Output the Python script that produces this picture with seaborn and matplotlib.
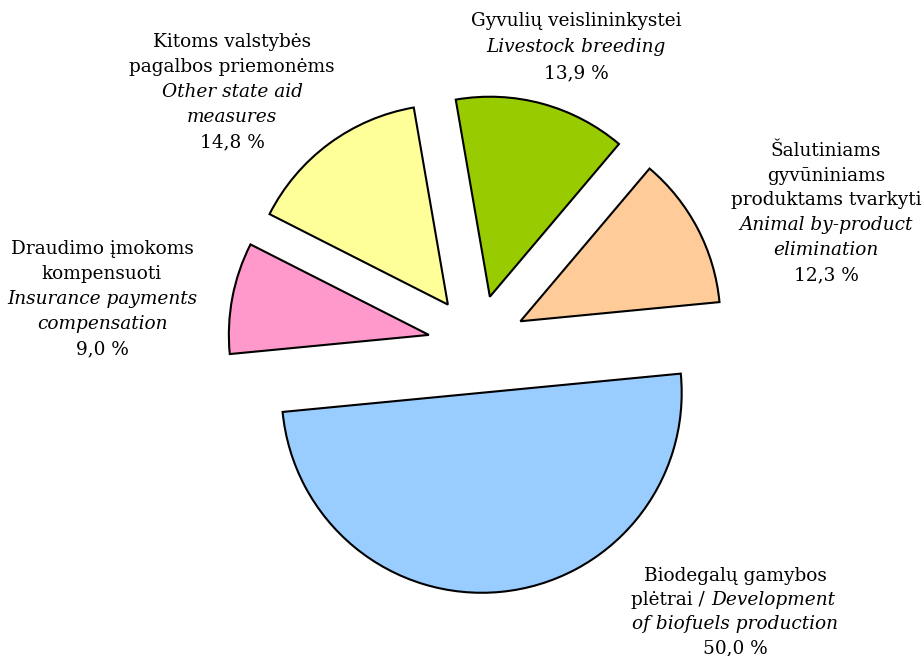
import matplotlib
matplotlib.use("Agg")
import matplotlib.pyplot as plt
import seaborn as sns

# shares of state aid, %
categories = ["Biodegalų gamybos plėtrai", "Šalutiniams gyvūniniams produktams tvarkyti",
              "Gyvulių veislininkystei", "Kitoms valstybės pagalbos priemonėms",
              "Draudimo įmokoms kompensuoti"]
values = [50.0, 12.3, 13.9, 14.8, 9.0]
value_labels = ["50,0 %", "12,3 %", "13,9 %", "14,8 %", "9,0 %"]
colors = ["#99CCFF", "#FFCC99", "#99CC00", "#FFFF99", "#FF99CC"]

sns.set_theme(style="white")
plt.rcParams["font.family"] = ["DejaVu Serif"]

fig = plt.figure(figsize=(9.24, 6.56), dpi=100)
ax = fig.add_axes([0, 0, 1, 1])

ax.pie(values, colors=colors, startangle=185.5, counterclock=True,
       explode=[0.245] * len(values), radius=1.0,
       wedgeprops=dict(edgecolor="black", linewidth=1.5))

ax.set_xlim(-477 / 200, (924 - 477) / 200)
ax.set_ylim(-(656 - 344) / 200, 344 / 200)
ax.set_aspect("equal")
ax.axis("off")

fs = 13.3


def px(x, y):
    return (x - 477) / 200, (344 - y) / 200


def put(x, y, s, italic=False, ha="center"):
    xd, yd = px(x, y)
    return ax.text(xd, yd, s, ha=ha, va="center", fontsize=fs,
                   style="italic" if italic else "normal", color="black")


# Kitoms valstybės ...
put(232, 42, "Kitoms valstybės")
put(232, 67, "pagalbos priemonėms")
put(232, 92, "Other state aid", italic=True)
put(232, 117, "measures", italic=True)
put(232, 142, value_labels[3])

# Gyvulių veislininkystei
put(576, 21, "Gyvulių veislininkystei")
put(576, 47, "Livestock breeding", italic=True)
put(576, 73, value_labels[2])

# Šalutiniams ...
put(826, 151, "Šalutiniams")
put(826, 176, "gyvūniniams")
put(826, 200, "produktams tvarkyti")
put(826, 225, "Animal by-product", italic=True)
put(826, 250, "elimination", italic=True)
put(826, 275, value_labels[1])

# Draudimo ...
put(102, 249, "Draudimo įmokoms")
put(102, 274, "kompensuoti")
put(102, 299, "Insurance payments", italic=True)
put(102, 324, "compensation", italic=True)
put(102, 349, value_labels[4])

# Biodegalų ...
put(735, 576, "Biodegalų gamybos")
# mixed line: normal + italic, centred as one line
gap = 6
t1 = put(0, 600, "plėtrai /", ha="left")
t2 = put(0, 600, "Development", italic=True, ha="left")
fig.canvas.draw()
r = fig.canvas.get_renderer()
w1 = t1.get_window_extent(r).width
w2 = t2.get_window_extent(r).width
left = 733 - (w1 + gap + w2) / 2
t1.set_x(px(left, 600)[0])
t2.set_x(px(left + w1 + gap, 600)[0])
put(735, 624, "of biofuels production", italic=True)
put(735, 648, value_labels[0])

fig.savefig("out.png", dpi=100)
